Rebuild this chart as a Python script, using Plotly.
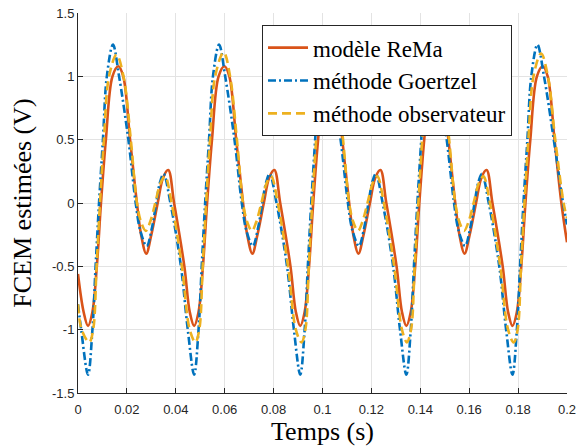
import plotly.graph_objects as go

# ---- data (time in s, FCEM in V) ----
t_rema = [0.0000, 0.0023, 0.0041, 0.0059, 0.0077, 0.0094, 0.0114, 0.0141, 0.0165, 0.0185, 0.0213, 0.0241, 0.0258, 0.0279, 0.0300, 0.0326, 0.0348, 0.0369, 0.0393, 0.0435,
          0.0457, 0.0475, 0.0493, 0.0511, 0.0528, 0.0548, 0.0575, 0.0599, 0.0619, 0.0647, 0.0675, 0.0692, 0.0713, 0.0734, 0.0760, 0.0782, 0.0803, 0.0827, 0.0869,
          0.0891, 0.0909, 0.0927, 0.0945, 0.0962, 0.0982, 0.1009, 0.1033, 0.1053, 0.1081, 0.1109, 0.1126, 0.1147, 0.1168, 0.1194, 0.1216, 0.1237, 0.1261, 0.1303,
          0.1325, 0.1343, 0.1361, 0.1379, 0.1396, 0.1416, 0.1443, 0.1467, 0.1487, 0.1515, 0.1543, 0.1560, 0.1581, 0.1602, 0.1628, 0.1650, 0.1671, 0.1695, 0.1737,
          0.1759, 0.1777, 0.1795, 0.1813, 0.1830, 0.1850, 0.1877, 0.1901, 0.1921, 0.1949, 0.1977, 0.2000]
v_rema = [-0.56, -0.86, -0.97, -0.86, -0.50, 0.00, 0.50, 1.00, 1.08, 1.00, 0.50, 0.00, -0.25, -0.40, -0.25, 0.00, 0.20, 0.26, 0.00, -0.50,
          -0.86, -0.97, -0.86, -0.50, 0.00, 0.50, 1.00, 1.08, 1.00, 0.50, 0.00, -0.25, -0.40, -0.25, 0.00, 0.20, 0.26, 0.00, -0.50,
          -0.86, -0.97, -0.86, -0.50, 0.00, 0.50, 1.00, 1.08, 1.00, 0.50, 0.00, -0.25, -0.40, -0.25, 0.00, 0.20, 0.26, 0.00, -0.50,
          -0.86, -0.97, -0.86, -0.50, 0.00, 0.50, 1.00, 1.08, 1.00, 0.50, 0.00, -0.25, -0.40, -0.25, 0.00, 0.20, 0.26, 0.00, -0.50,
          -0.86, -0.97, -0.86, -0.50, 0.00, 0.50, 1.00, 1.08, 1.00, 0.50, 0.00, -0.31]

t_goertzel = [0.0000, 0.0013, 0.0041, 0.0059, 0.0072, 0.0086, 0.0102, 0.0118, 0.0143, 0.0168, 0.0206, 0.0236, 0.0255, 0.0281, 0.0302, 0.0320, 0.0335, 0.0350, 0.0378, 0.0421, 0.0449,
              0.0475, 0.0493, 0.0506, 0.0520, 0.0536, 0.0552, 0.0577, 0.0602, 0.0640, 0.0670, 0.0689, 0.0715, 0.0736, 0.0754, 0.0769, 0.0784, 0.0812, 0.0855, 0.0883,
              0.0909, 0.0927, 0.0940, 0.0954, 0.0970, 0.0986, 0.1011, 0.1036, 0.1074, 0.1104, 0.1123, 0.1149, 0.1170, 0.1188, 0.1203, 0.1218, 0.1246, 0.1289, 0.1317,
              0.1343, 0.1361, 0.1374, 0.1388, 0.1404, 0.1420, 0.1445, 0.1470, 0.1508, 0.1538, 0.1557, 0.1583, 0.1604, 0.1622, 0.1637, 0.1652, 0.1680, 0.1723, 0.1751,
              0.1777, 0.1795, 0.1808, 0.1822, 0.1838, 0.1854, 0.1879, 0.1906, 0.1946, 0.1984, 0.2000]
v_goertzel = [-0.80, -1.00, -1.355, -1.00, -0.50, 0.00, 0.50, 1.00, 1.25, 1.00, 0.50, 0.00, -0.22, -0.34, -0.20, 0.00, 0.16, 0.23, 0.00, -0.50, -1.00,
              -1.355, -1.00, -0.50, 0.00, 0.50, 1.00, 1.25, 1.00, 0.50, 0.00, -0.22, -0.34, -0.20, 0.00, 0.16, 0.23, 0.00, -0.50, -1.00,
              -1.355, -1.00, -0.50, 0.00, 0.50, 1.00, 1.25, 1.00, 0.50, 0.00, -0.22, -0.34, -0.20, 0.00, 0.16, 0.23, 0.00, -0.50, -1.00,
              -1.355, -1.00, -0.50, 0.00, 0.50, 1.00, 1.25, 1.00, 0.50, 0.00, -0.22, -0.34, -0.20, 0.00, 0.16, 0.23, 0.00, -0.50, -1.00,
              -1.355, -1.00, -0.50, 0.00, 0.50, 1.00, 1.25, 1.00, 0.50, 0.00, -0.17]

t_obs = [0.0000, 0.0015, 0.0046, 0.0062, 0.0076, 0.0090, 0.0106, 0.0127, 0.0158, 0.0186, 0.0216, 0.0241, 0.0258, 0.0277, 0.0295, 0.0316, 0.0338, 0.0356, 0.0383, 0.0425, 0.0457,
         0.0480, 0.0496, 0.0510, 0.0524, 0.0540, 0.0561, 0.0596, 0.0622, 0.0650, 0.0675, 0.0692, 0.0711, 0.0729, 0.0750, 0.0772, 0.0790, 0.0817, 0.0859, 0.0891,
         0.0914, 0.0930, 0.0944, 0.0958, 0.0974, 0.0995, 0.1026, 0.1054, 0.1084, 0.1109, 0.1126, 0.1145, 0.1163, 0.1184, 0.1206, 0.1224, 0.1251, 0.1293, 0.1325,
         0.1345, 0.1362, 0.1377, 0.1392, 0.1408, 0.1429, 0.1460, 0.1488, 0.1518, 0.1543, 0.1560, 0.1579, 0.1597, 0.1618, 0.1640, 0.1658, 0.1685, 0.1727, 0.1759,
         0.1782, 0.1798, 0.1812, 0.1826, 0.1842, 0.1863, 0.1894, 0.1922, 0.1952, 0.1986, 0.2000]
v_obs = [-0.80, -1.00, -1.10, -1.00, -0.50, 0.00, 0.50, 1.00, 1.17, 1.00, 0.50, 0.00, -0.15, -0.22, -0.15, 0.00, 0.16, 0.21, 0.00, -0.50, -1.00,
         -1.10, -1.00, -0.50, 0.00, 0.50, 1.00, 1.19, 1.00, 0.50, 0.00, -0.15, -0.22, -0.15, 0.00, 0.16, 0.21, 0.00, -0.50, -1.00,
         -1.10, -1.00, -0.50, 0.00, 0.50, 1.00, 1.18, 1.00, 0.50, 0.00, -0.15, -0.22, -0.15, 0.00, 0.16, 0.21, 0.00, -0.50, -1.00,
         -1.10, -1.00, -0.50, 0.00, 0.50, 1.00, 1.18, 1.00, 0.50, 0.00, -0.15, -0.22, -0.15, 0.00, 0.16, 0.21, 0.00, -0.50, -1.00,
         -1.10, -1.00, -0.50, 0.00, 0.50, 1.00, 1.18, 1.00, 0.50, 0.00, -0.12]

names = ["modèle ReMa", "méthode Goertzel", "méthode observateur"]
x_ticks = [0, 0.02, 0.04, 0.06, 0.08, 0.1, 0.12, 0.14, 0.16, 0.18, 0.2]
x_ticktext = ["0", "0.02", "0.04", "0.06", "0.08", "0.1", "0.12", "0.14", "0.16", "0.18", "0.2"]
y_ticks = [-1.5, -1, -0.5, 0, 0.5, 1, 1.5]
y_ticktext = ["-1.5", "-1", "-0.5", "0", "0.5", "1", "1.5"]
x_label = "Temps (s)"
y_label = "FCEM estimées (V)"

SERIF = "Liberation Serif, Times New Roman, serif"
SANS = "Liberation Sans, Arial, sans-serif"

fig = go.Figure()
fig.add_trace(go.Scatter(x=t_rema, y=v_rema, name=names[0], mode="lines",
                         line=dict(color="#D95319", width=2.6, shape="spline", smoothing=1.0)))
fig.add_trace(go.Scatter(x=t_goertzel, y=v_goertzel, name=names[1], mode="lines",
                         line=dict(color="#0072BD", width=2.6, shape="spline", smoothing=1.0,
                                   dash="8px,3px,2px,3px")))
fig.add_trace(go.Scatter(x=t_obs, y=v_obs, name=names[2], mode="lines",
                         line=dict(color="#EDB120", width=2.6, shape="spline", smoothing=1.0,
                                   dash="9px,5px")))

axis_common = dict(showline=True, linecolor="#262626", linewidth=1, mirror=False,
                   ticks="inside", ticklen=5, tickcolor="#262626", tickwidth=1,
                   showgrid=True, gridcolor="#e3e3e3", gridwidth=1, zeroline=False,
                   automargin=False, ticklabeloverflow="allow",
                   tickfont=dict(family=SANS, size=13, color="#262626"))

fig.update_layout(
    width=576, height=448,
    margin=dict(l=78, r=9, t=13, b=55),
    paper_bgcolor="white", plot_bgcolor="white",
    showlegend=True,
    legend=dict(x=0.3763, y=0.968, xanchor="left", yanchor="top",
                bgcolor="white", bordercolor="#262626", borderwidth=1,
                font=dict(family=SERIF, size=23, color="black"),
                traceorder="normal", itemwidth=40),
    xaxis=dict(range=[0, 0.2], tickvals=x_ticks, ticktext=x_ticktext,
               title=dict(text=x_label, font=dict(family=SERIF, size=26, color="black"), standoff=3),
               ticklabelstandoff=4, **axis_common),
    yaxis=dict(range=[-1.5, 1.5], tickvals=y_ticks, ticktext=y_ticktext,
               title=dict(text=y_label, font=dict(family=SERIF, size=26, color="black"), standoff=12),
               **axis_common),
)

# remove the default 8 px body margin so the 576x448 figure fills the window exactly
fig.write_html("out.html", config={"displayModeBar": False},
               post_script="document.body.style.margin='0px';document.body.style.overflow='hidden';")
